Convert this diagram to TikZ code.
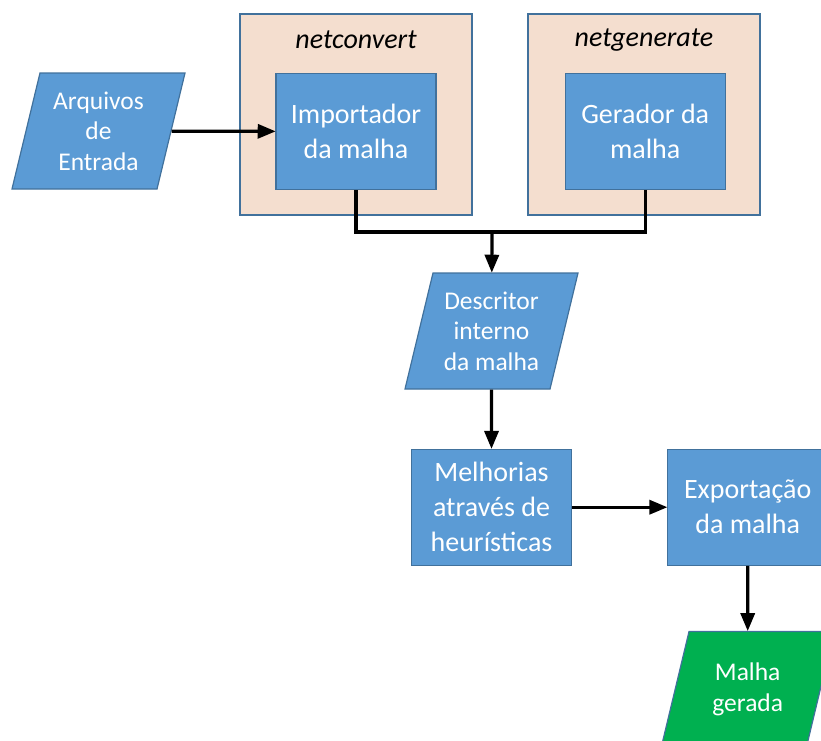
\documentclass[tikz,border=0pt]{standalone}
\usepackage{fontspec}
\setmainfont{Carlito}
\usetikzlibrary{shapes,shapes.geometric,arrows,positioning}

\definecolor{boxblue}{HTML}{5B9BD5}
\definecolor{edgeblue}{HTML}{41719C}
\definecolor{toolpeach}{HTML}{F4DECF}
\definecolor{outgreen}{HTML}{00B050}

\begin{document}
\begin{tikzpicture}[x=1pt,y=-1pt,>=triangle 45,
	tool box/.style={draw=edgeblue, line width=1.2pt, fill=toolpeach, minimum width=232pt, minimum height=201pt},
	proc node/.style={draw=edgeblue, line width=1.2pt, fill=boxblue, text=white, minimum width=160pt, minimum height=116pt, inner sep=0pt, align=center, font=\fontsize{28pt}{35pt}\selectfont},
	data node/.style={trapezium, trapezium left angle=76.4, trapezium right angle=103.6, trapezium stretches body, draw=edgeblue, line width=1.2pt, fill=boxblue, text=white, minimum width=173pt, minimum height=116pt, inner xsep=0pt, inner ysep=18.5pt, align=center, font=\fontsize{25.5pt}{30.5pt}\selectfont},
	flow/.style={line width=3.2pt, line join=miter}]
	\useasboundingbox (0,0) rectangle (821,740);
	
	\node[tool box] (convbox) at (356,114.5) {};
	\node[tool box] (genbox) at (644,114.5) {};
	\node[font=\fontsize{28pt}{35pt}\selectfont\itshape] (convname) at (356,40) {netconvert};
	\node[font=\fontsize{28pt}{35pt}\selectfont\itshape] (genname) at (644,40) {netgenerate};
	
	\node[data node] (arq) at (98.5,131) {Arquivos\\de\\Entrada};
	\node[proc node] (imp) at (356,131.5) {Importador\\da malha};
	\node[proc node] (gen) [right=128pt of imp] {Gerador da\\malha};
	\node[data node] (desc) at (491.5,331) {Descritor\\interno\\da malha};
	\node[proc node] (mel) [below=59pt of desc] {Melhorias\\através de\\heurísticas};
	\node[proc node] (exp) [right=95pt of mel] {Exportação\\da malha};
	\node[data node, fill=outgreen, inner ysep=31pt, font=\fontsize{25.5pt}{31pt}\selectfont] (malha) [below=65pt of exp] {Malha\\gerada};
	
	\coordinate (join) at (492,232);
	
	\draw[flow] (imp.south) |- (join) -| (gen.south);
	\draw[flow,->] (join) -- (desc);
	\draw[flow,->] (arq) -- (imp);
	\draw[flow,->] (desc) -- (mel);
	\draw[flow,->] (mel) -- (exp);
	\draw[flow,->] (exp) -- (malha);
	
\end{tikzpicture}
\end{document}
